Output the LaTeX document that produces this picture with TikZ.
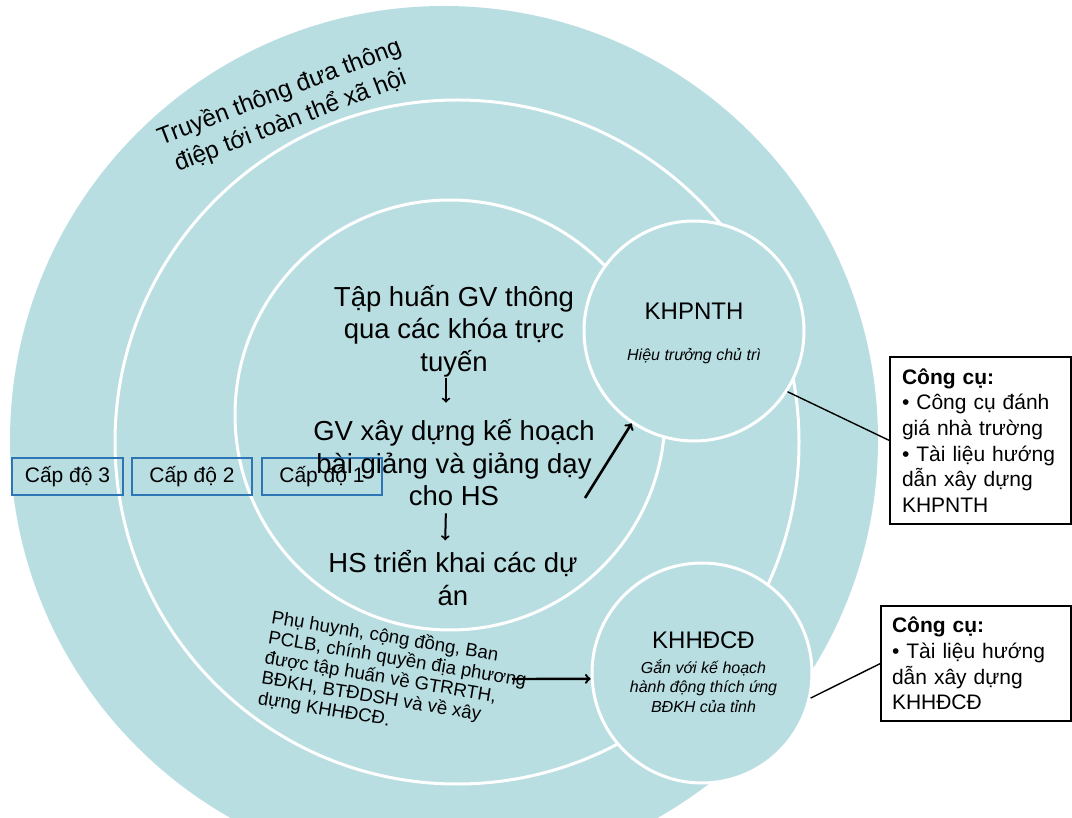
\documentclass[tikz,border=0pt]{standalone}
\usepackage{fontspec}
\setmainfont{Liberation Sans}
\usepackage{tikz}

\definecolor{ringfill}{RGB}{185,222,226}
\definecolor{levelblue}{RGB}{46,117,182}

\begin{document}
\begin{tikzpicture}[x=1pt,y=-1pt,
  ring/.style={draw=white,line width=3pt,fill=ringfill},
  bigtext/.style={inner sep=0pt,align=center,font=\fontsize{27.5}{32.5}\selectfont},
  levelbox/.style={draw=levelblue,line width=1.2pt,minimum height=37pt,inner sep=0pt,font=\fontsize{21}{25}\selectfont},
  toolbox/.style={draw=black,line width=1.2pt,fill=white,align=left,inner xsep=12pt,font=\fontsize{21}{25.7}\selectfont},
  flow/.style={->,line width=2pt},
  link/.style={line width=1.4pt}]
\useasboundingbox (0,0) rectangle (1072,818);

\fill[ringfill] (444,440) circle (434pt);
\draw[ring] (457,442) circle (342pt);
\draw[ring] (450,415) circle (215pt);

\node[ring,circle,minimum size=220pt] (khp) at (694,331) {};
\node[ring,circle,minimum size=220pt] (khd) at (702,673) {};

\node[inner sep=0pt,align=center,rotate=21,font=\fontsize{24.2}{30.5}\selectfont] (truyen) at (285,107) {Truyền thông đưa thông\\điệp tới toàn thể xã hội};

\node[levelbox,minimum width=111pt] (lv3) at (67.5,476.5) {Cấp độ 3};
\node[levelbox,minimum width=120pt] (lv2) at (192,476.5) {Cấp độ 2};
\node[levelbox,minimum width=120pt] (lv1) at (322,476.5) {Cấp độ 1};

\node[bigtext] (tap) at (454,331) {Tập huấn GV thông\\qua các khóa trực\\tuyến};
\node[bigtext] (gv) at (454,463) {GV xây dựng kế hoạch\\bài giảng và giảng dạy\\cho HS};
\node[bigtext] (hs) at (453,578) {HS triển khai các dự\\án};

\node[inner sep=0pt,align=left,rotate=-9.5,font=\fontsize{18.6}{20.5}\selectfont] (phu) at (394,680) {Phụ huynh, cộng đồng, Ban\\PCLB, chính quyền địa phương\\được tập huấn về GTRRTH,\\BĐKH, BTĐDSH và về xây\\dựng KHHĐCĐ.};

\node[inner sep=0pt,font=\fontsize{24}{28}\selectfont] (khptitle) at (694,311.5) {KHPNTH};
\node[inner sep=0pt,font=\itshape\fontsize{16}{19}\selectfont] (khpnote) at (694,356) {Hiệu trưởng chủ trì};
\node[inner sep=0pt,font=\fontsize{24}{28}\selectfont] (khdtitle) at (703.5,640.5) {KHHĐCĐ};
\node[inner sep=0pt,align=center,font=\itshape\fontsize{16}{19.5}\selectfont] (khdnote) at (703.5,686) {Gắn với kế hoạch\\hành động thích ứng\\BĐKH của tỉnh};

\node[toolbox,minimum height=167pt,text width=157pt] (tool1) at (980.5,440.5) {\textbf{Công cụ:}\\• Công cụ đánh\\giá nhà trường\\• Tài liệu hướng\\dẫn xây dựng\\KHPNTH};
\node[toolbox,minimum height=115pt,text width=168pt,inner xsep=11pt] (tool2) at (976,663.5) {\textbf{Công cụ:}\\• Tài liệu hướng\\dẫn xây dựng\\KHHĐCĐ};

\coordinate (gvout) at (585,498);
\coordinate (phout) at (512,679);

\draw[flow,shorten <=1pt,shorten >=17pt] ([xshift=-8pt]tap.south) -- ([xshift=-8pt]gv.north);
\draw[flow,shorten <=7pt,shorten >=10pt] ([xshift=-8pt]gv.south) -- ([xshift=-8pt]hs.north);
\draw[flow,line width=2.6pt] (gvout) -- (khp.-124);
\draw[flow,line width=2.4pt] (phout) -- (khd.183);
\draw[link] (khp.-33) -- (tool1.west);
\draw[link] (khd.-13) -- (tool2.west);
\end{tikzpicture}
\end{document}
